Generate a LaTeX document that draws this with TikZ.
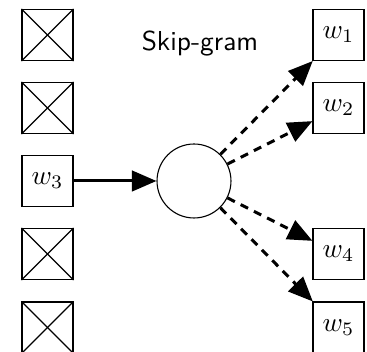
\documentclass[tikz,border=0pt]{standalone}
\usetikzlibrary{arrows.meta}
\begin{document}
\begin{tikzpicture}[x=0.365pt,y=-0.365pt,
  wbox/.style={draw,line width=0.4pt,minimum width=18.6pt,minimum height=18.6pt,inner sep=0pt,fill=white},
  hub/.style={draw,circle,line width=0.4pt,minimum size=27pt,inner sep=0pt},
  conn/.style={line width=1.1pt,-{Triangle[length=9pt,width=7.5pt]}},
  dconn/.style={conn,dash pattern=on 3pt off 2.4pt}
]
\useasboundingbox (0,0) rectangle (367,352);
% left column
\node[wbox] (l1) at (47.5,35) {};
\node[wbox] (l2) at (47.5,108) {};
\node[wbox] (w3) at (47.5,181) {$w_3$};
\node[wbox] (l4) at (47.5,254) {};
\node[wbox] (l5) at (47.5,327.5) {};
\foreach \n in {l1,l2,l4,l5}{
  \draw[line width=0.4pt] (\n.north west) -- (\n.south east);
  \draw[line width=0.4pt] (\n.north east) -- (\n.south west);
}
% right column
\node[wbox] (w1) at (338.5,35) {$w_1$};
\node[wbox] (w2) at (338.5,108) {$w_2$};
\node[wbox] (w4) at (338.5,254) {$w_4$};
\node[wbox] (w5) at (338.5,327.5) {$w_5$};
% hub
\node[hub] (c) at (194,181) {};
\node[inner sep=0pt] (title) at (200,43.5) {\sffamily Skip-gram};
% connectors
\draw[conn] (w3) -- (c);
\draw[dconn] (c) -- (w1);
\draw[dconn] (c) -- (w2);
\draw[dconn] (c) -- (w4);
\draw[dconn] (c) -- (w5);
\end{tikzpicture}
\end{document}
